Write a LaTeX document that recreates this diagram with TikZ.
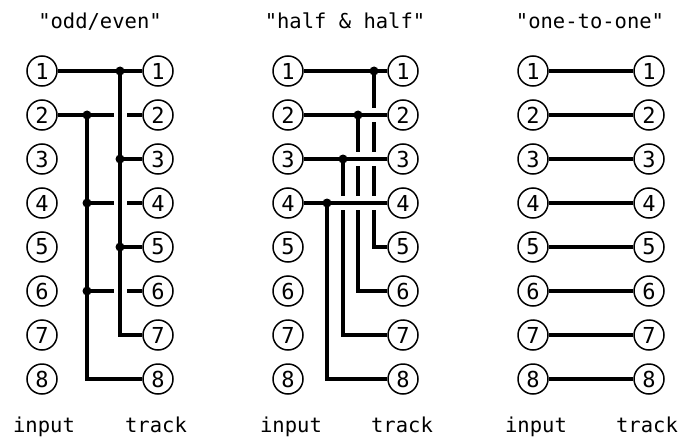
\documentclass[tikz,border=0pt]{standalone}
\usepackage{fontspec}
\newfontfamily\macfont{DejaVu Sans Mono}
\usetikzlibrary{calc}

\tikzset{
  pin/.style={circle,draw,line width=1.5pt,minimum size=30pt,inner sep=0pt,
    font=\macfont\fontsize{22}{22}\selectfont},
  caption/.style={anchor=base,font=\macfont\fontsize{20.5}{20.5}\selectfont},
  wire/.style={line width=3.6pt},
  gap/.style={fill=white},
}

\begin{document}
\begin{tikzpicture}[x=1pt,y=-1pt]
    \useasboundingbox[fill=white] (0,0) rectangle (679,441);

    % Pins
    \foreach \p/\xa/\xb in {a/42/158,b/288/403,c/533/649}
      \foreach \n in {1,...,8} {
        \node[pin] (\p-in\n) at (\xa,27+44*\n) {\n};
        \node[pin] (\p-tr\n) at (\xb,27+44*\n) {\n};
      }

    % Titles
    \node[caption] (a-title) at (100,29) {"odd/even"};
    \node[caption] (b-title) at (345,29) {"half \& half"};
    \node[caption] (c-title) at (590,29) {"one-to-one"};
    \foreach \p/\xa/\xb in {a/44/156,b/291/402,c/536/647} {
      \node[caption] (\p-input) at (\xa,432) {input};
      \node[caption] (\p-track) at (\xb,432) {track};
    }

    % odd/even
    \foreach \x/\n in {120/1,87/2,120/3,87/4,120/5,87/6}
      \coordinate (a-j\n) at (\x,27+44*\n);
    \draw[wire] (a-in1) -- (a-tr1);
    \draw[wire] (a-in2) -- (a-tr2);
    \foreach \n in {3,4,5,6}
      \draw[wire] (a-j\n) -- (a-tr\n);
    \foreach \n in {2,4,6}
      \fill[gap] (114,21+44*\n) rectangle (126.5,33+44*\n);
    \draw[wire] (a-j1) |- (a-tr7);
    \draw[wire] (a-j2) |- (a-tr8);
    \foreach \n in {1,...,6}
      \fill (a-j\n) circle (4.5);

    % half & half
    \foreach \x/\n in {374/1,358/2,343/3,327/4}
      \coordinate (b-j\n) at (\x,27+44*\n);
    \foreach \n in {1,...,4} {
      \pgfmathtruncatemacro\m{\n+4}
      \draw[wire] (b-j\n) |- (b-tr\m);
    }
    \foreach \x/\n in {374/2,374/3,374/4,358/3,358/4,343/4}
      \fill[gap] (\x-3.5,20+44*\n) rectangle (\x+3.5,34+44*\n);
    \foreach \n in {1,...,4}
      \draw[wire] (b-in\n) -- (b-tr\n);
    \foreach \n in {1,...,4}
      \fill (b-j\n) circle (4.5);

    % one-to-one
    \foreach \n in {1,...,8}
      \draw[wire] (c-in\n) -- (c-tr\n);
\end{tikzpicture}
\end{document}
